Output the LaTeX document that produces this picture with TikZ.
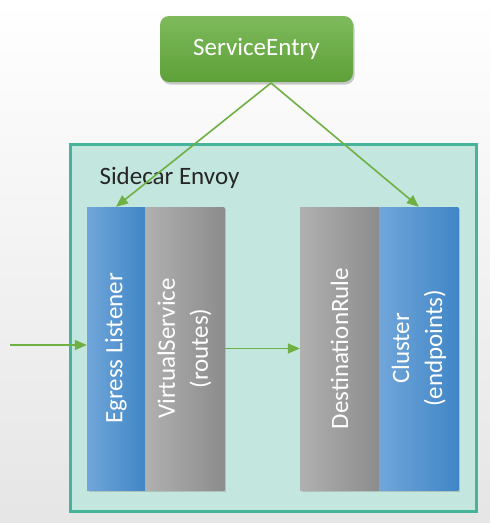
\documentclass[tikz,border=0pt]{standalone}
\usepackage{fontspec}
\setmainfont{Carlito}
\usetikzlibrary{arrows.meta,positioning,shadows}

\definecolor{seTop}{RGB}{126,186,92}
\definecolor{seBot}{RGB}{94,160,56}
\definecolor{envoyFill}{RGB}{195,230,222}
\definecolor{envoyLine}{RGB}{70,180,155}
\definecolor{blueL}{RGB}{112,166,218}
\definecolor{blueM}{RGB}{86,154,218}
\definecolor{blueR}{RGB}{64,134,198}
\definecolor{grayL}{RGB}{176,176,176}
\definecolor{grayR}{RGB}{140,140,140}
\definecolor{flow}{RGB}{110,176,68}

\tikzset{
    txt/.style={font=\fontsize{25}{33}\selectfont},
    bluebox/.style={txt, text=white, minimum width=#1, minimum height=283, inner sep=0,
        left color=blueL, middle color=blueM, right color=blueR,
        drop shadow={opacity=0.35, shadow xshift=1.5pt, shadow yshift=-2pt}},
    graybox/.style={txt, text=white, minimum width=#1, minimum height=283, inner sep=0,
        left color=grayL, right color=grayR,
        drop shadow={opacity=0.35, shadow xshift=1.5pt, shadow yshift=-2pt}},
    flowarrow/.style={draw=flow, line width=1.6pt, -{Triangle[length=12pt,width=10pt]}}
}

\begin{document}
\begin{tikzpicture}[x=1pt, y=-1pt]
    % Fundo
    \shade[top color=white, bottom color=gray!20] (0,0) rectangle (490,523);
    \useasboundingbox (0,0) rectangle (490,523);

    % Sidecar
    \node[draw=envoyLine, line width=3pt, fill=envoyFill, minimum width=406, minimum height=367,
        inner sep=0] (envoy) at (273,327.5) {};
    \node[txt, text=black!85, anchor=west] (envoylabel) at (96,178) {Sidecar Envoy};

    % ServiceEntry
    \node[txt, text=white, rounded corners=9pt, top color=seTop, bottom color=seBot,
        minimum width=193, minimum height=66, inner sep=0,
        drop shadow={opacity=0.4, shadow xshift=1.5pt, shadow yshift=-2.5pt}] (se) at (256.5,49) {ServiceEntry};

    % Caixas
    \node[bluebox=58] (egress) at (116,348.5) {\rotatebox{90}{Egress Listener}};
    \node[graybox=79, right=0 of egress] (vs) {\rotatebox{90}{\begin{tabular}{@{}c@{}}VirtualService\\(routes)\end{tabular}}};
    \node[graybox=79] (dr) at (339.5,348.5) {\rotatebox{90}{DestinationRule}};
    \node[bluebox=79, right=0 of dr] (cluster) {\rotatebox{90}{\begin{tabular}{@{}c@{}}Cluster\\(endpoints)\end{tabular}}};

    % Setas
    \coordinate (apex) at (271,83);
    \coordinate (in) at (10,345);
    \draw[flowarrow] (apex) -- (egress.north);
    \draw[flowarrow] (apex) -- (cluster.north);
    \draw[flowarrow] (in) -- (in -| egress.west);
    \draw[flowarrow] (vs) -- (dr);
\end{tikzpicture}
\end{document}
